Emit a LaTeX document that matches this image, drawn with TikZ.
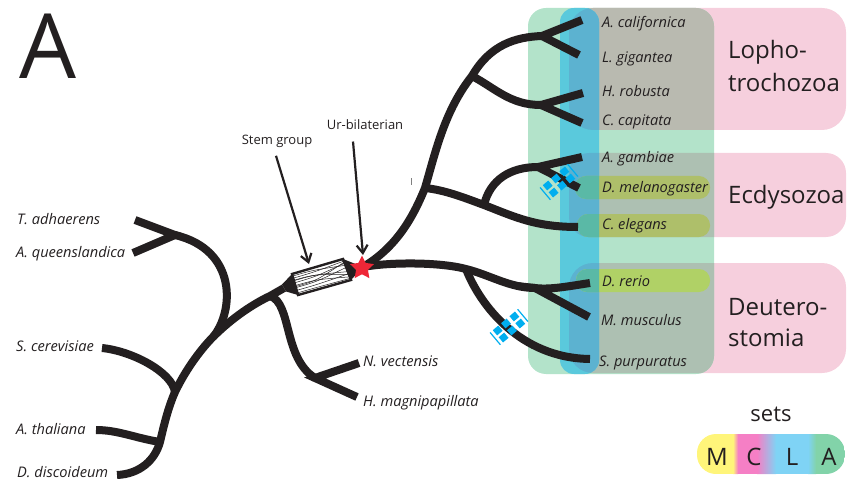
\documentclass[tikz,border=0pt]{standalone}
\usepackage{fontspec}
\setmainfont{Open Sans}
\usepackage{xcolor}
\usepackage{tikz}
\usetikzlibrary{calc, arrows.meta, shapes.geometric}
\definecolor{treeColor}{HTML}{231F20}
\definecolor{pinkColor}{HTML}{F6CFDD}
\definecolor{greenColor}{HTML}{B3E3CA}
\definecolor{blueColor}{HTML}{5AC9DC}
\definecolor{grayTop}{HTML}{B9BAB0}
\definecolor{grayLow}{HTML}{ADC0B2}
\definecolor{bluePink}{HTML}{5CB2D0}
\definecolor{oliveColor}{HTML}{AEBF6A}
\definecolor{limeColor}{HTML}{B0D166}
\definecolor{tealColor}{HTML}{5AB9A6}
\definecolor{markColor}{HTML}{00AEEF}
\definecolor{starColor}{HTML}{EE2737}
\definecolor{setM}{HTML}{FFF57A}
\definecolor{setC}{HTML}{F57FC5}
\definecolor{setL}{HTML}{7FD3F5}
\definecolor{setA}{HTML}{82D3A9}
\newcommand{\markgroup}[1]{%
  \begin{scope}[shift={(#1)},rotate=40]
    \foreach \u in {-10.9,0,10.9}
      \foreach \v in {-4.6,4.6}
        \fill[markColor] (\u-3.6,\v-3.4) rectangle (\u+3.6,\v+3.4);
    \foreach \u in {-18,18}
      \draw[markColor, line width=1.2pt] (\u,-8) -- (\u,8);
  \end{scope}}
\tikzset{
  branch/.style={line width=8pt, treeColor},
  species/.style={anchor=west, inner sep=0pt, yshift=-1.5pt, font=\itshape\fontsize{14.6}{15}\selectfont, text=treeColor},
  clade/.style={anchor=west, inner sep=0pt, font=\fontsize{24}{24}\selectfont, text=treeColor},
  note/.style={font=\fontsize{13}{14}\selectfont, text=treeColor},
  setletter/.style={font=\fontsize{24}{24}\selectfont, text=treeColor},
  pointer/.style={-{Straight Barb[length=8pt,width=11pt]}, line width=2.2pt, treeColor}
}
\begin{document}
\begin{tikzpicture}[x=1pt,y=-1pt]
    \useasboundingbox (0,0) rectangle (848,481);
    % clade panels
    \fill[pinkColor, rounded corners=24pt] (569,8) rectangle (846,130);
    \fill[pinkColor, rounded corners=20pt] (569,153) rectangle (846,237);
    \fill[pinkColor, rounded corners=24pt] (569,263) rectangle (846,373);
    % set A
    \fill[greenColor, rounded corners=18pt] (528,8) rectangle (714,374);
    \begin{scope}
        \clip[rounded corners=18pt] (528,8) rectangle (714,374);
        \fill[grayTop, rounded corners=24pt] (569,8) rectangle (846,130);
        \fill[grayLow, rounded corners=20pt] (569,153) rectangle (846,237);
        \fill[grayLow, rounded corners=24pt] (569,263) rectangle (846,373);
    \end{scope}
    % set L
    \fill[blueColor, rounded corners=14pt] (560,8) rectangle (599,374);
    \begin{scope}
        \clip[rounded corners=14pt] (560,8) rectangle (599,374);
        \fill[bluePink, rounded corners=24pt] (569,8) rectangle (846,130);
        \fill[bluePink, rounded corners=20pt] (569,153) rectangle (846,237);
        \fill[bluePink, rounded corners=24pt] (569,263) rectangle (846,373);
    \end{scope}
    % set C
    \fill[oliveColor, rounded corners=11pt] (575,176) rectangle (710,199);
    \fill[oliveColor, rounded corners=11pt] (577,214) rectangle (710,237);
    \fill[limeColor, rounded corners=11pt] (576,269) rectangle (710,292);
    \begin{scope}
        \clip (560,8) rectangle (599,374);
        \fill[tealColor, rounded corners=11pt] (575,176) rectangle (710,199);
        \fill[tealColor, rounded corners=11pt] (577,214) rectangle (710,237);
        \fill[tealColor, rounded corners=11pt] (576,269) rectangle (710,292);
    \end{scope}
    % junctions
    \coordinate (discoTip) at (117,475);
    \coordinate (thalTip) at (96,430);
    \coordinate (yeastTip) at (102,348);
    \coordinate (plantFork) at (160,442);
    \coordinate (yeastFork) at (175,392);
    \coordinate (spongeFork) at (213,337);
    \coordinate (cnidFork) at (270,296);
    \coordinate (tubeFoot) at (284,288);
    \coordinate (triTip) at (135,220);
    \coordinate (spongeTip) at (133,253);
    \coordinate (basalFork) at (175,235);
    \coordinate (nemaFork) at (315,378);
    \coordinate (nemaTip) at (359,363);
    \coordinate (hydraTip) at (357,397);
    \coordinate (urNode) at (363,267);
    \coordinate (ecdyFork) at (425,188);
    \coordinate (lophoFork) at (472,76);
    \coordinate (aplyFork) at (542,36);
    \coordinate (aplyTip) at (582,20);
    \coordinate (lottiaTip) at (579,55);
    \coordinate (helobFork) at (541,105);
    \coordinate (helobTip) at (583,93);
    \coordinate (capiTip) at (582,123);
    \coordinate (wormFork) at (484,205);
    \coordinate (wormTip) at (578,227);
    \coordinate (flyFork) at (538,167);
    \coordinate (gambTip) at (582,157);
    \coordinate (droTip) at (579,188);
    \coordinate (deutFork) at (466,269);
    \coordinate (fishFork) at (535,288);
    \coordinate (fishTip) at (590,283);
    \coordinate (mouseTip) at (589,317);
    \coordinate (urchinTip) at (590,359);
    % left of the stem group
    \draw[branch] (discoTip) .. controls (140,474) and (155,460) .. (plantFork)
        .. controls (164,425) and (168,408) .. (yeastFork)
        .. controls (187,367) and (203,347) .. (spongeFork)
        .. controls (232,318) and (253,304) .. (cnidFork) -- (tubeFoot);
    \draw[branch] (thalTip) .. controls (118,430) and (135,438) .. (plantFork);
    \draw[branch] (yeastTip) .. controls (132,351) and (172,372) .. (yeastFork);
    \draw[branch] (spongeFork) .. controls (234,312) and (238,250) .. (basalFork);
    \draw[branch] (triTip) -- (basalFork) -- (spongeTip);
    \draw[branch] (cnidFork) .. controls (292,303) and (283,358) .. (nemaFork);
    \draw[branch] (nemaTip) -- (nemaFork) -- (hydraTip);
    % stem group
    \coordinate (tubeA) at (292,274);
    \coordinate (tubeB) at (343,259);
    \coordinate (tubeC) at (351,280);
    \coordinate (tubeD) at (298,295);
    \fill[treeColor] ($(tubeFoot)+(-2,-3.5)$) -- (tubeA) -- (tubeD) -- ($(tubeFoot)+(2,3.5)$) -- cycle;
    \fill[treeColor] (tubeB) -- (urNode) -- (tubeC) -- cycle;
    \draw[line width=2.4pt, treeColor, fill=white] (tubeA) -- (tubeB) -- (tubeC) -- (tubeD) -- cycle;
    \foreach \a/\b in {.1/.3,.2/.1,.32/.6,.42/.2,.55/.85,.65/.4,.78/.7,.9/.92,.6/.15,.3/.75}
        \draw[treeColor, line width=.5pt] ($(tubeA)!\a!(tubeD)$)
            .. controls ($(tubeA)!.4!(tubeB)!\a!($(tubeD)!.4!(tubeC)$)$) .. ($(tubeB)!\b!(tubeC)$);
    % right of the ur-bilaterian
    \draw[branch] (urNode) .. controls (395,248) and (412,220) .. (ecdyFork)
        .. controls (436,150) and (445,110) .. (lophoFork)
        .. controls (490,45) and (515,37) .. (aplyFork);
    \draw[branch] (aplyTip) -- (aplyFork) -- (lottiaTip);
    \draw[branch] (lophoFork) .. controls (495,88) and (510,105) .. (helobFork);
    \draw[branch] (helobTip) -- (helobFork) -- (capiTip);
    \draw[branch] (ecdyFork) .. controls (445,190) and (465,198) .. (wormFork)
        .. controls (515,217) and (535,227) .. (wormTip);
    \draw[branch] (wormFork) .. controls (490,180) and (510,167) .. (flyFork);
    \draw[branch] (gambTip) -- (flyFork) -- (droTip);
    \draw[branch] (urNode) .. controls (390,262) and (440,262) .. (deutFork)
        .. controls (490,275) and (510,288) .. (fishFork);
    \draw[branch] (fishTip) .. controls (570,286) and (550,290) .. (fishFork) -- (mouseTip);
    \draw[branch] (deutFork) .. controls (480,305) and (520,358) .. (urchinTip);
    \markgroup{559,182}
    \markgroup{509,327}
    \node[star, star points=5, star point ratio=2, fill=starColor, inner sep=0pt, minimum size=25pt] (urStar) at (362,268) {};
    % arrows
    \node[note] (stemLabel) at (277,141) {Stem group};
    \node[note] (urLabel) at (365,125) {Ur-bilaterian};
    \coordinate (stemHead) at (309,264);
    \coordinate (urHead) at (363,255);
    \draw[pointer] ($(stemLabel.south)+(-1,5)$) -- (stemHead);
    \draw[pointer] ($(urLabel.south)+(-12,8)$) -- (urHead);
    \node[fill=gray, inner sep=0pt, minimum width=1pt, minimum height=7pt] (tickMark) at (411,182) {};
    % species
    \node[species] (tAdh) at (17,218) {T. adhaerens};
    \node[species] (aQue) at (16,252) {A. queenslandica};
    \node[species] (sCer) at (16,345) {S. cerevisiae};
    \node[species] (aTha) at (16,428) {A. thaliana};
    \node[species] (dDis) at (17,471) {D. discoideum};
    \node[species] (nVec) at (363,360) {N. vectensis};
    \node[species] (hMag) at (363,401) {H. magnipapillata};
    \node[species] (aCal) at (602,22) {A. californica};
    \node[species] (lGig) at (602,57) {L. gigantea};
    \node[species] (hRob) at (602,90) {H. robusta};
    \node[species] (cCap) at (602,120) {C. capitata};
    \node[species] (aGam) at (602,157) {A. gambiae};
    \node[species] (dMel) at (602,187) {D. melanogaster};
    \node[species] (cEle) at (602,224) {C. elegans};
    \node[species] (dRer) at (602,280) {D. rerio};
    \node[species] (mMus) at (601,319) {M. musculus};
    \node[species] (sPur) at (599,361) {S. purpuratus};
    % clades
    \node[clade] (lophoA) at (728,52) {Lopho-};
    \node[clade] (lophoB) at (728,83) {trochozoa};
    \node[clade] (ecdy) at (728,197) {Ecdysozoa};
    \node[clade] (deutA) at (728,307) {Deutero-};
    \node[clade] (deutB) at (728,338) {stomia};
    \node[inner sep=0pt, font=\fontsize{90}{90}\selectfont, text=treeColor] (panel) at (48,46) {A};
    % legend
    \node[font=\fontsize{22}{23}\selectfont, text=treeColor] (setsLabel) at (771,414) {sets};
    \begin{scope}
        \clip[rounded corners=19pt] (697,434) rectangle (845,474);
        \fill[setM] (697,434) rectangle (733,474);
        \shade[left color=setM, right color=setC] (733,434) rectangle (738,474);
        \fill[setC] (738,434) rectangle (757,474);
        \shade[left color=setC, right color=setL] (757,434) rectangle (776,474);
        \fill[setL] (776,434) rectangle (808,474);
        \shade[left color=setL, right color=setA] (808,434) rectangle (816,474);
        \fill[setA] (816,434) rectangle (845,474);
    \end{scope}
    \node[setletter] (setMlabel) at (717,457) {M};
    \node[setletter] (setClabel) at (754,457) {C};
    \node[setletter] (setLlabel) at (792,457) {L};
    \node[setletter] (setAlabel) at (829,457) {A};
\end{tikzpicture}
\end{document}
